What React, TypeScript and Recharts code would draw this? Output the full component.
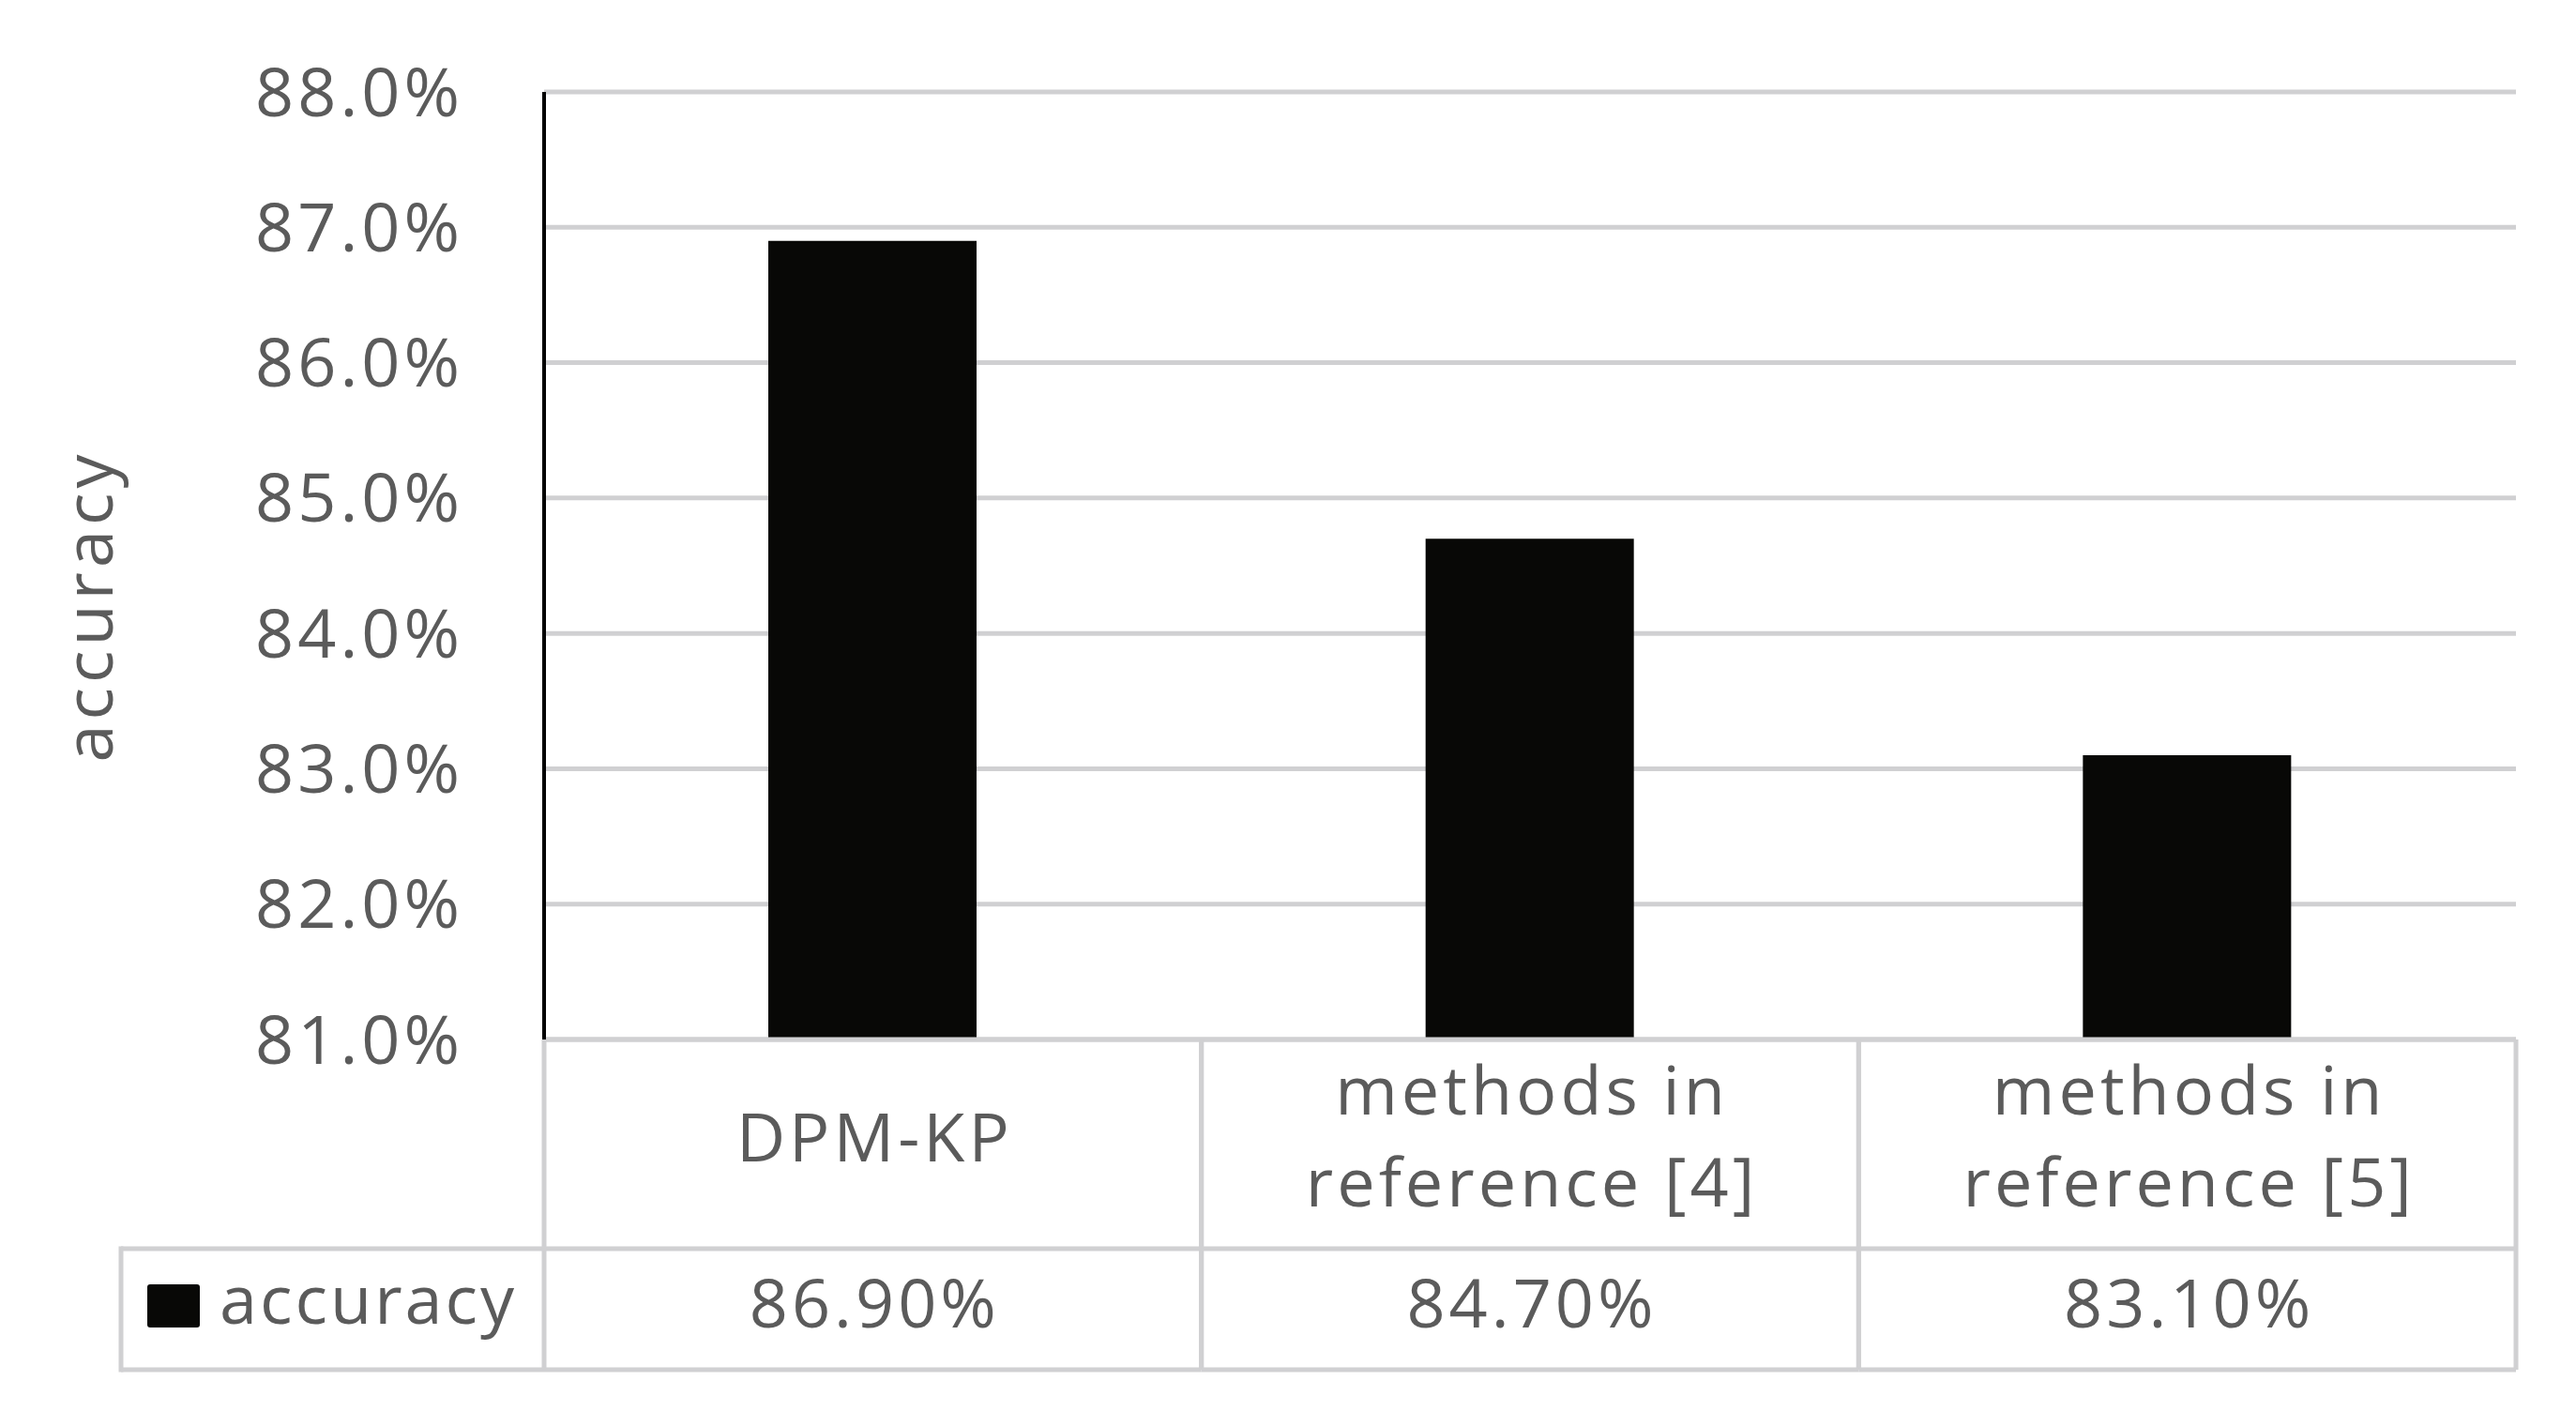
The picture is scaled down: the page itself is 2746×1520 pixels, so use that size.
import { Bar, BarChart, CartesianGrid, XAxis, YAxis } from "recharts";

const categories = ["DPM-KP", "methods in reference [4]", "methods in reference [5]"];
const categoryLines = [["DPM-KP"], ["methods in", "reference [4]"], ["methods in", "reference [5]"]];
const accuracy = [86.9, 84.7, 83.1];
const yTicks = [81, 82, 83, 84, 85, 86, 87, 88];
const seriesName = "accuracy";

const data = categories.map((name, i) => ({ name, accuracy: accuracy[i] }));

const WIDTH = 2746;
const HEIGHT = 1520;
const MARGIN = { top: 98, right: 64, bottom: 58, left: 0 };
const Y_AXIS_W = 580;
const TABLE_H = 352;
const ROW1_H = 223;
const PLOT_W = WIDTH - MARGIN.right - Y_AXIS_W;
const CELL_W = PLOT_W / categories.length;
const LEGEND_LEFT = 129;

const GRID = "#d0d0d2";
const TEXT = "#5b5b5b";
const BAR = "#080806";
const FONT = "'Open Sans', sans-serif";
const FS = 72;
const LS = 4;

function YLabel(props: any) {
  const vb = props.viewBox ?? { x: 0, y: 0, width: 0, height: 0 };
  const x = vb.x + 120;
  const y = vb.y + vb.height / 2 + 43;
  return (
    <text
      x={x}
      y={y}
      transform={`rotate(-90, ${x}, ${y})`}
      textAnchor="middle"
      fill={TEXT}
      fontSize={FS}
      fontFamily={FONT}
      letterSpacing={5}
    >
      accuracy
    </text>
  );
}

// x axis tick doubles as a data-table column: category cell + value cell
function TableTick(props: any) {
  const { x, y, index, payload } = props;
  const lines = categoryLines[index] ?? [String(payload.value)];
  const left = x - CELL_W / 2;
  const right = x + CELL_W / 2;
  const mid = y + ROW1_H;
  const bottom = y + TABLE_H;
  const line = { stroke: GRID, strokeWidth: 5 };
  const cx = x + LS / 2;
  const txt = { fill: TEXT, fontSize: FS, fontFamily: FONT, letterSpacing: LS, textAnchor: "middle" as const };

  return (
    <g>
      <line x1={left} y1={y} x2={left} y2={bottom} {...line} />
      <line x1={right} y1={y} x2={right} y2={bottom} {...line} />
      <line x1={left} y1={mid} x2={right} y2={mid} {...line} />
      <line x1={left} y1={bottom} x2={right} y2={bottom} {...line} />
      {lines.length === 1 ? (
        <text x={cx} y={y + 130} {...txt}>
          {lines[0]}
        </text>
      ) : (
        lines.map((l: string, i: number) => (
          <text key={l} x={cx} y={y + 80 + i * 98} {...txt}>
            {l}
          </text>
        ))
      )}
      <text x={cx} y={y + 307} {...txt}>
        {accuracy[index].toFixed(2)}%
      </text>
      {index === 0 ? (
        <g>
          <line x1={LEGEND_LEFT} y1={mid} x2={left} y2={mid} {...line} />
          <line x1={LEGEND_LEFT} y1={bottom} x2={left} y2={bottom} {...line} />
          <line x1={LEGEND_LEFT} y1={mid - 2.5} x2={LEGEND_LEFT} y2={bottom + 2.5} {...line} />
          <rect x={LEGEND_LEFT + 28} y={y + 261} width={56} height={46} rx={3} fill={BAR} />
          <text x={LEGEND_LEFT + 105} y={y + 303} fill={TEXT} fontSize={FS} fontFamily={FONT} letterSpacing={3}>
            {seriesName}
          </text>
        </g>
      ) : null}
    </g>
  );
}

export default function App() {
  return (
    <div style={{ position: "absolute", left: 0, top: 0, width: WIDTH, height: HEIGHT, background: "#fff" }}>
      <BarChart width={WIDTH} height={HEIGHT} data={data} margin={MARGIN}>
        <CartesianGrid vertical={false} stroke={GRID} strokeWidth={5} />
        <XAxis
          dataKey="name"
          height={TABLE_H + 2}
          interval={0}
          tickLine={false}
          tickSize={0}
          tickMargin={0}
          axisLine={{ stroke: GRID, strokeWidth: 5 }}
          tick={<TableTick />}
        />
        <YAxis
          type="number"
          width={Y_AXIS_W}
          domain={[81, 88]}
          ticks={yTicks}
          interval={0}
          allowDataOverflow
          tickLine={false}
          tickSize={0}
          tickMargin={86}
          axisLine={{ stroke: "#000", strokeWidth: 4 }}
          tick={{ fill: TEXT, fontSize: FS, fontFamily: FONT, letterSpacing: LS }}
          tickFormatter={(v: number) => `${v.toFixed(1)}%`}
          label={<YLabel />}
        />
        <Bar dataKey="accuracy" name={seriesName} fill={BAR} barSize={222} isAnimationActive={false} />
      </BarChart>
    </div>
  );
}
